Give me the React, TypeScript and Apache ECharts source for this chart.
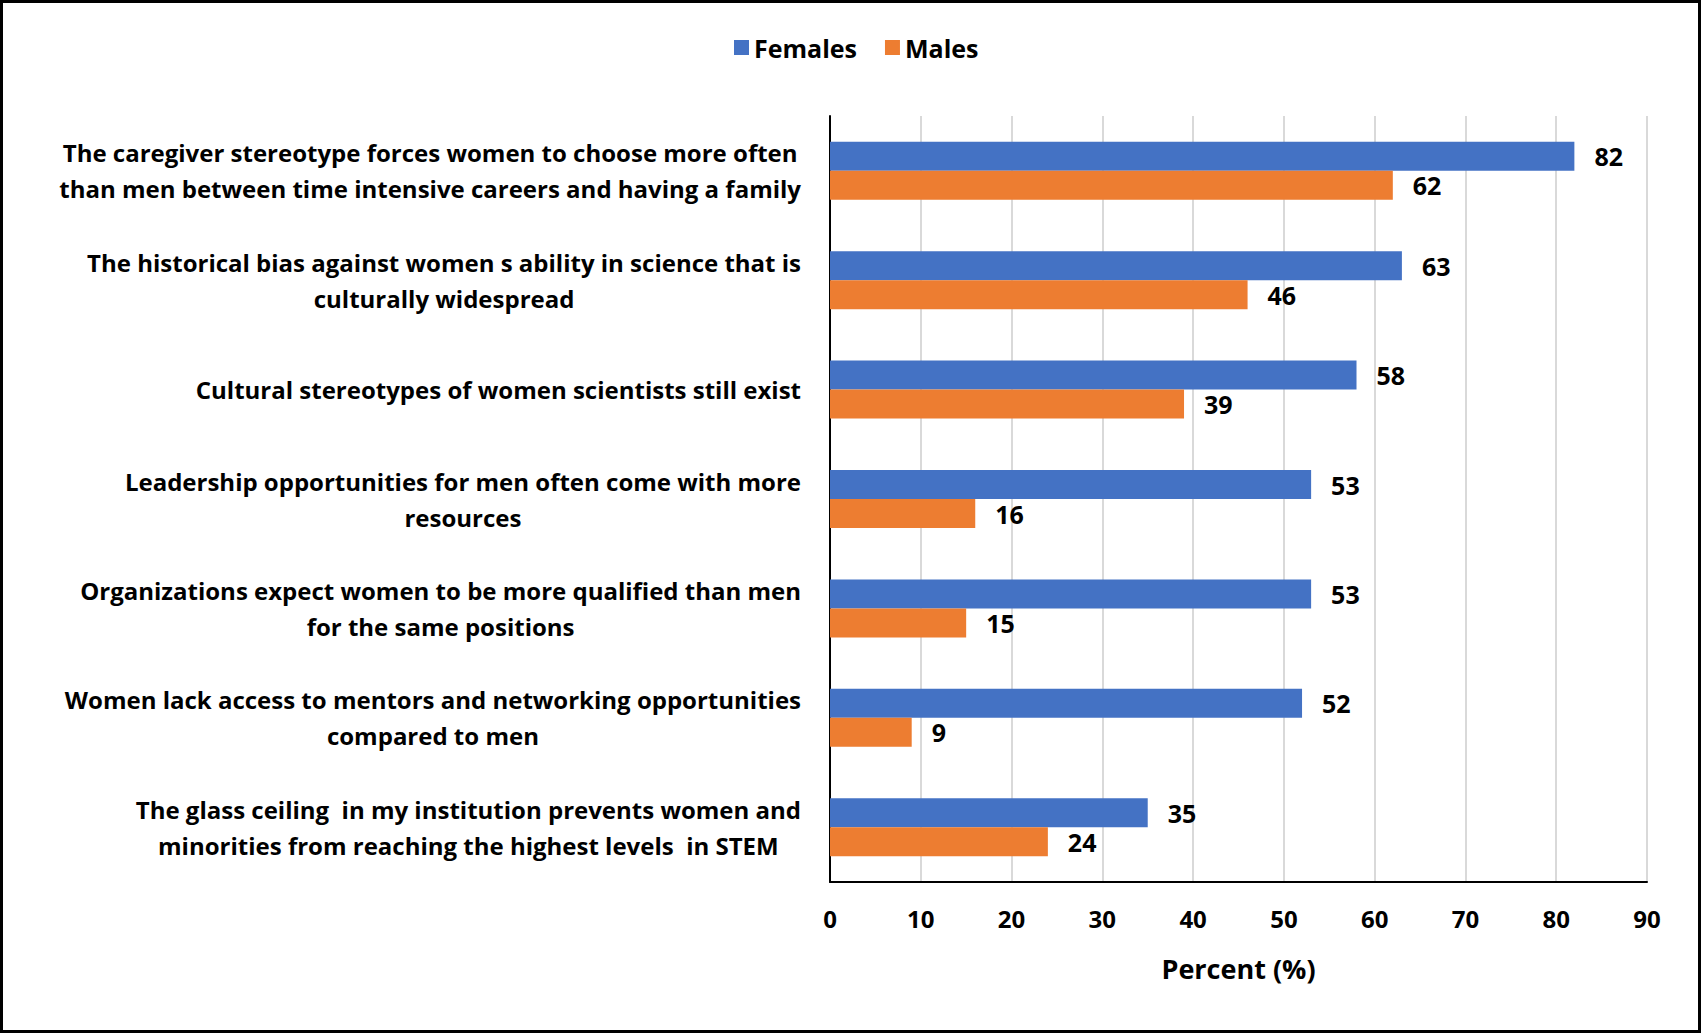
import React, { useEffect, useRef } from "react";
import * as echarts from "echarts";

const categories: string[] = [
  "The caregiver stereotype forces women to choose more often\nthan men between time intensive careers and having a family",
  "The historical bias against women s ability in science that is\nculturally widespread",
  "Cultural stereotypes of women scientists still exist",
  "Leadership opportunities for men often come with more\nresources",
  "Organizations expect women to be more qualified than men\nfor the same positions",
  "Women lack access to mentors and networking opportunities\ncompared to men",
  "The glass ceiling  in my institution prevents women and\nminorities from reaching the highest levels  in STEM",
];
const females: number[] = [82, 63, 58, 53, 53, 52, 35];
const males: number[] = [62, 46, 39, 16, 15, 9, 24];
const xTicks = { min: 0, max: 90, interval: 10 };

const FONT = "'Open Sans', 'Noto Sans', sans-serif";

export default function App() {
  const ref = useRef<HTMLDivElement>(null);
  useEffect(() => {
    if (!ref.current) return;
    const chart = echarts.init(ref.current, undefined, { renderer: "svg" });
    const labelStyle = {
      show: true,
      position: "right" as const,
      distance: 20,
      color: "#000",
      fontFamily: FONT,
      fontWeight: "bold" as const,
      fontSize: 25,
    };
    chart.setOption({
      animation: false,
      backgroundColor: "#fff",
      textStyle: { fontFamily: FONT },
      graphic: [
        {
          type: "rect",
          shape: { x: 1.5, y: 1.5, width: 1698, height: 1030 },
          style: { fill: "none", stroke: "#000", lineWidth: 3 },
          silent: true,
        },
      ],
      legend: {
        left: 729,
        top: 30,
        itemWidth: 15,
        itemHeight: 15,
        itemGap: 28,
        icon: "rect",
        textStyle: { fontFamily: FONT, fontWeight: "bold", fontSize: 25, color: "#000" },
        data: ["Females", "Males"],
      },
      grid: { left: 830, right: 54, top: 116, bottom: 151 },
      xAxis: {
        type: "value",
        min: xTicks.min,
        max: xTicks.max,
        interval: xTicks.interval,
        name: "Percent (%)",
        nameLocation: "middle",
        nameGap: 73,
        nameTextStyle: { fontFamily: FONT, fontWeight: "bold", fontSize: 27, color: "#000" },
        axisLine: { show: true, lineStyle: { color: "#000", width: 2 } },
        axisTick: { show: false },
        axisLabel: { margin: 24, fontFamily: FONT, fontWeight: "bold", fontSize: 24, color: "#000" },
        splitLine: { show: true, lineStyle: { color: "#D9D9D9", width: 2 } },
      },
      yAxis: {
        type: "category",
        inverse: true,
        data: categories,
        axisLine: { show: true, lineStyle: { color: "#000", width: 2 } },
        axisTick: { show: false },
        axisLabel: {
          margin: 29,
          align: "right",
          formatter: (v: string) => v.split("\n").map((l) => `{a|${l}}`).join("\n"),
          rich: {
            a: {
              align: "center",
              fontFamily: FONT,
              fontWeight: "bold",
              fontSize: 24,
              lineHeight: 36,
              color: "#000",
            },
          },
        },
      },
      series: [
        {
          name: "Females",
          type: "bar",
          data: females,
          barWidth: 29,
          barGap: "0%",
          itemStyle: { color: "#4472C4" },
          label: labelStyle,
        },
        {
          name: "Males",
          type: "bar",
          data: males,
          barWidth: 29,
          barGap: "0%",
          itemStyle: { color: "#ED7D31" },
          label: labelStyle,
        },
      ],
    });
    return () => chart.dispose();
  }, []);
  return (
    <div
      ref={ref}
      style={{ position: "fixed", left: 0, top: 0, width: 1701, height: 1033 }}
    />
  );
}
